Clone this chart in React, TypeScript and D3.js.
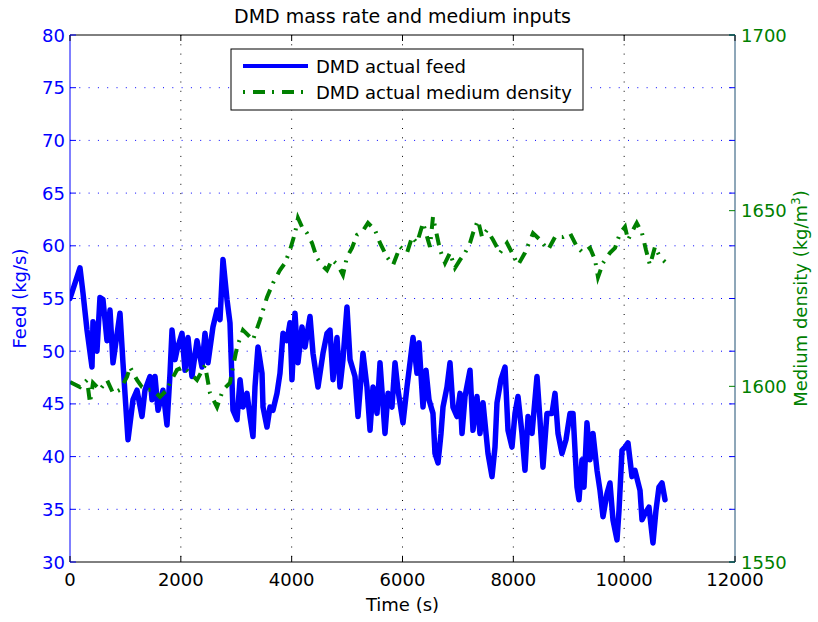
import React from "react";
import * as d3 from "d3";

// Feed rate (kg/s) sampled over time (s)
const feedTime = [
  0, 180, 235, 307, 397, 415, 487, 541, 595, 668, 722, 776, 902, 956, 1047, 1137, 1209, 1299, 1353, 1444,
  1480, 1534, 1588, 1678, 1750, 1805, 1841, 1895, 1931, 2021, 2075, 2129, 2201, 2292, 2382, 2436, 2490, 2580,
  2653, 2707, 2761, 2833, 2887, 2941, 3014, 3068, 3122, 3194, 3248, 3302, 3338, 3392, 3465, 3483, 3555, 3609,
  3663, 3735, 3789, 3844, 3916, 3970, 4006, 4060, 4114, 4186, 4241, 4331, 4385, 4475, 4565, 4638, 4692, 4746,
  4818, 4872, 4926, 4998, 5053, 5143, 5197, 5287, 5359, 5414, 5468, 5540, 5594, 5684, 5738, 5810, 5865, 5919,
  6009, 6081, 6135, 6190, 6262, 6298, 6370, 6424, 6478, 6550, 6586, 6641, 6695, 6731, 6803, 6857, 6911, 6983,
  7038, 7074, 7128, 7218, 7272, 7344, 7398, 7453, 7543, 7615, 7669, 7705, 7777, 7850, 7904, 7976, 8030, 8084,
  8156, 8210, 8265, 8337, 8427, 8481, 8535, 8607, 8698, 8752, 8806, 8878, 8950, 9023, 9077, 9149, 9185, 9239,
  9275, 9329, 9383, 9437, 9510, 9564, 9618, 9690, 9744, 9798, 9871, 9907, 9961, 10015, 10069, 10141, 10195,
  10286, 10322, 10376, 10448, 10520, 10574, 10628, 10683, 10737,
];
const feedValue = [
  55, 57.9, 55.5, 52, 48.5, 52.8, 50, 55.1, 54.9, 51, 53.9, 48.9, 53.6, 48.9, 41.6, 45.4, 46.3, 43.8, 46.3, 47.6,
  45.4, 47.6, 44.4, 46.3, 43, 47.9, 52, 49.2, 50.1, 51.7, 48.2, 51.3, 47.6, 51, 48.5, 51.7, 48.9, 52.3,
  53.9, 53, 58.7, 54.9, 52.7, 44.4, 43.5, 47.3, 44.7, 46, 43.8, 41.9, 46.6, 50.4, 47.9, 44.7, 42.8, 44.7,
  44.4, 46, 47.9, 51.7, 51, 52.7, 47.3, 53.6, 48.9, 52.3, 50.4, 53.3, 49.8, 46.6, 49.8, 51.7, 52, 47.3,
  51.3, 46.6, 49.2, 54.2, 49.2, 47.6, 43.8, 49.8, 46.6, 42.5, 46.6, 44.1, 48.9, 42.2, 46, 44.7, 48.9, 46.3,
  43.2, 46.6, 48.9, 51.3, 47.9, 50.8, 44.7, 48.2, 45.4, 44.1, 40.3, 39.4, 42.2, 44.7, 46.6, 48.9, 44.7, 43.8,
  46, 42.2, 45.7, 48.2, 42.5, 45.7, 42.2, 45.1, 40.3, 38.1, 40.9, 45.1, 47.3, 48.5, 42.5, 40.9, 44.1, 45.7,
  42.2, 38.7, 43.8, 42.2, 47.6, 43.5, 39, 44.1, 44.1, 46, 42.2, 40.3, 41.6, 44.1, 44.1, 37.1, 35.9, 39.7,
  37.1, 43.2, 39.7, 42.2, 38.7, 36.8, 34.3, 36.5, 37.5, 34, 32.1, 34.9, 40.6, 40.9, 41.3, 38.1, 38.7,
  36.8, 34, 34.6, 35.2, 31.8, 34.9, 37.1, 37.5, 35.9,
];

// Medium density (kg/m^3) sampled over time (s)
const densityTime = [
  0, 180, 307, 361, 415, 541, 668, 776, 902, 1029, 1083, 1209, 1299, 1389, 1498, 1624, 1750, 1805, 1931, 2039,
  2165, 2292, 2436, 2526, 2653, 2761, 2887, 2941, 3014, 3122, 3302, 3429, 3555, 3663, 3789, 3880, 3970, 4060,
  4114, 4186, 4277, 4367, 4457, 4547, 4638, 4728, 4836, 4926, 4998, 5089, 5179, 5269, 5377, 5504, 5594, 5720,
  5829, 5955, 6081, 6172, 6262, 6370, 6496, 6550, 6677, 6767, 6857, 6947, 7038, 7128, 7218, 7272, 7362, 7435,
  7525, 7633, 7759, 7886, 7976, 8084, 8210, 8355, 8481, 8626, 8752, 8896, 9023, 9149, 9257, 9383, 9474, 9528,
  9618, 9744, 9835, 9925, 10015, 10069, 10159, 10227, 10322, 10394, 10466, 10556, 10647, 10737,
];
const densityValue = [
  1601.2, 1599.8, 1601.8, 1595.3, 1601, 1599, 1601.8, 1598.1, 1599, 1602.7, 1605.5, 1601.8, 1599.8, 1599, 1599,
  1597, 1599, 1601, 1604.7, 1605.5, 1603.8, 1601.8, 1606, 1598.1, 1594.1, 1599, 1601, 1605.5, 1611.2, 1616,
  1613.2, 1618.9, 1625.4, 1629.4, 1633.1, 1635.1, 1638.8, 1643.6, 1647.9, 1645.4, 1643.6, 1640.8, 1636.5,
  1634.5, 1633.1, 1636, 1634.5, 1631.7, 1636.8, 1639.4, 1643.1, 1643.9, 1646.5, 1644.5, 1640.8, 1636.8, 1634.5,
  1639.7, 1638, 1642.5, 1640.8, 1646.5, 1639.7, 1648.2, 1638.8, 1635.1, 1638, 1633.7, 1636, 1638, 1640.8,
  1643.6, 1647.3, 1642.5, 1644.5, 1641.7, 1638, 1640.8, 1638, 1634.5, 1638, 1643.6, 1641.7, 1638.8, 1642.5,
  1642.5, 1643.6, 1639.7, 1638, 1639.4, 1636, 1631.1, 1635.1, 1638, 1639.4, 1643.6, 1645.4, 1641.7, 1644.5,
  1646.5, 1643.6, 1638.8, 1634.5, 1639.7, 1636.8, 1635.4,
];

const xTicks = [0, 2000, 4000, 6000, 8000, 10000, 12000];
const feedTicks = [30, 35, 40, 45, 50, 55, 60, 65, 70, 75, 80];
const densityTicks = [1550, 1600, 1650, 1700];

const W = 818;
const H = 622;
const M = { left: 70, right: 735, top: 35, bottom: 562 };
const BLUE = "#0000ff";
const GREEN = "#008000";
const FONT = "'DejaVu Sans', Verdana, sans-serif";

export default function App() {
  const x = d3.scaleLinear().domain([0, 12000]).range([M.left, M.right]);
  const yFeed = d3.scaleLinear().domain([30, 80]).range([M.bottom, M.top]);
  const yDen = d3.scaleLinear().domain([1550, 1700]).range([M.bottom, M.top]);

  const feedPts = feedTime.map((t, i) => [t, feedValue[i]] as [number, number]);
  const denPts = densityTime.map((t, i) => [t, densityValue[i]] as [number, number]);

  const feedLine = d3.line<[number, number]>().x((d) => x(d[0])).y((d) => yFeed(d[1]));
  const denLine = d3.line<[number, number]>().x((d) => x(d[0])).y((d) => yDen(d[1]));

  const tickLen = 6;
  const legend = { x: 231, y: 49, w: 352, h: 61 };

  return (
    <div style={{ position: "absolute", left: 0, top: 0 }}>
      <svg width={W} height={H} style={{ display: "block", background: "#fff" }} fontFamily={FONT}>
        <defs>
          <clipPath id="plot-clip">
            <rect x={M.left} y={M.top} width={M.right - M.left} height={M.bottom - M.top} />
          </clipPath>
        </defs>

        {/* grid: vertical from time axis, horizontal from feed axis */}
        {xTicks.slice(1, -1).map((t) => (
          <line key={"gx" + t} x1={x(t)} x2={x(t)} y1={M.top} y2={M.bottom}
            stroke="#000" strokeWidth={1} strokeDasharray="1,8.3" />
        ))}
        {feedTicks.slice(1, -1).map((v) => (
          <line key={"gy" + v} x1={M.left} x2={M.right} y1={yFeed(v)} y2={yFeed(v)}
            stroke={BLUE} strokeWidth={1} strokeDasharray="1,8.3" />
        ))}

        {/* data */}
        <g clipPath="url(#plot-clip)">
          <path d={feedLine(feedPts) ?? ""} fill="none" stroke={BLUE} strokeWidth={5.5}
            strokeLinejoin="round" strokeLinecap="round" />
          <path d={denLine(denPts) ?? ""} fill="none" stroke={GREEN} strokeWidth={4}
            strokeDasharray="12,7,2,8" />
        </g>

        {/* frame */}
        <line x1={M.left} x2={M.right} y1={M.top} y2={M.top} stroke="#000" strokeWidth={1} />
        <line x1={M.left} x2={M.right} y1={M.bottom} y2={M.bottom} stroke="#000" strokeWidth={1} />
        <line x1={M.left} x2={M.left} y1={M.top} y2={M.bottom} stroke={BLUE} strokeWidth={1} />
        <line x1={M.right} x2={M.right} y1={M.top} y2={M.bottom} stroke="#1d4f73" strokeWidth={1} />

        {/* time axis */}
        {xTicks.map((t) => (
          <g key={"xt" + t}>
            <line x1={x(t)} x2={x(t)} y1={M.bottom} y2={M.bottom - tickLen} stroke="#000" />
            <line x1={x(t)} x2={x(t)} y1={M.top} y2={M.top + tickLen} stroke="#000" />
            <text x={x(t)} y={M.bottom + 24} textAnchor="middle" fontSize={18} fill="#000">{t}</text>
          </g>
        ))}

        {/* feed axis */}
        {feedTicks.map((v) => (
          <g key={"yf" + v}>
            <line x1={M.left} x2={M.left + tickLen} y1={yFeed(v)} y2={yFeed(v)} stroke={BLUE} />
            <line x1={M.right} x2={M.right - tickLen} y1={yFeed(v)} y2={yFeed(v)} stroke={BLUE} />
            <text x={M.left - 5} y={yFeed(v) + 6.5} textAnchor="end" fontSize={18} fill={BLUE}>{v}</text>
          </g>
        ))}

        {/* density axis */}
        {densityTicks.map((v) => (
          <g key={"yd" + v}>
            <line x1={M.right} x2={M.right - tickLen} y1={yDen(v)} y2={yDen(v)} stroke={GREEN} />
            <text x={M.right + 6} y={yDen(v) + 6.5} textAnchor="start" fontSize={18} fill={GREEN}>{v}</text>
          </g>
        ))}

        {/* labels */}
        <text x={(M.left + M.right) / 2} y={23} textAnchor="middle" fontSize={19} fill="#000">
          DMD mass rate and medium inputs
        </text>
        <text x={(M.left + M.right) / 2} y={611} textAnchor="middle" fontSize={18} fill="#000">
          Time (s)
        </text>
        <text transform={`translate(26,${(M.top + M.bottom) / 2}) rotate(-90)`} textAnchor="middle"
          fontSize={18} fill={BLUE}>
          Feed (kg/s)
        </text>
        <text transform={`translate(807,${(M.top + M.bottom) / 2}) rotate(-90)`} textAnchor="middle"
          fontSize={18} fill={GREEN}>
          Medium density (kg/m<tspan dy={-7} fontSize={12}>3</tspan><tspan dy={7}>)</tspan>
        </text>

        {/* legend */}
        <rect x={legend.x} y={legend.y} width={legend.w} height={legend.h} fill="#fff" stroke="#000" strokeWidth={1} />
        <line x1={243} x2={308} y1={66} y2={66} stroke={BLUE} strokeWidth={4} />
        <text x={316} y={73} fontSize={18} fill="#000">DMD actual feed</text>
        <line x1={243} x2={308} y1={92} y2={92} stroke={GREEN} strokeWidth={4} strokeDasharray="2,8,12,7" />
        <text x={316} y={99} fontSize={18} fill="#000">DMD actual medium density</text>
      </svg>
    </div>
  );
}
